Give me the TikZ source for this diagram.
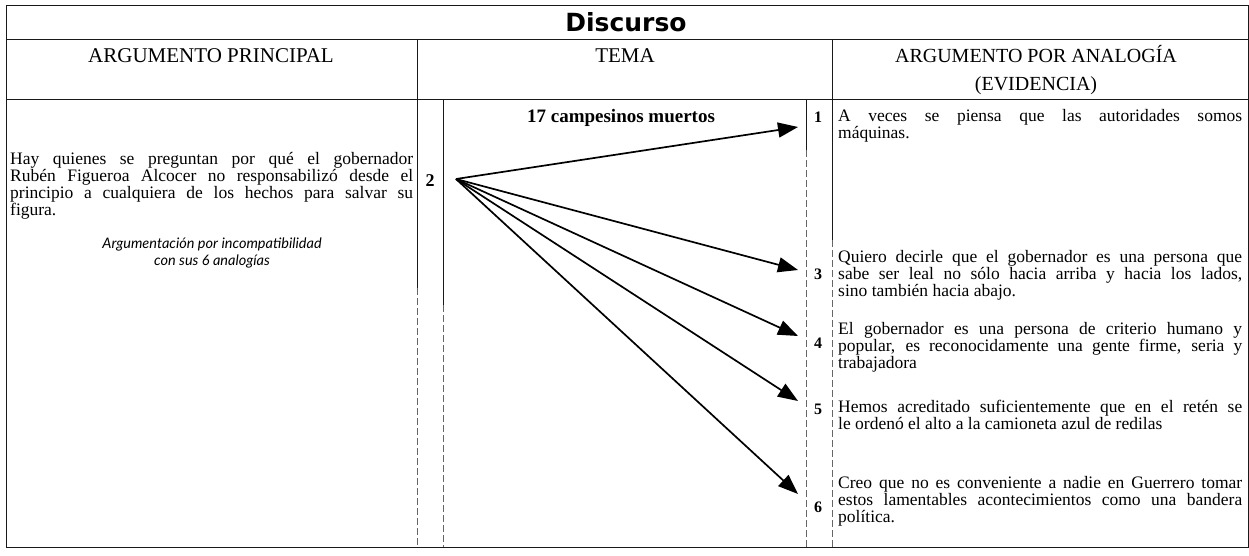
\documentclass[tikz,border=0pt]{standalone}
\usepackage{fontspec}
\setmainfont{Liberation Serif}
\newfontfamily\TitleFont{DejaVu Sans}
\newfontfamily\NoteFont{Lato}
\usetikzlibrary{arrows.meta}
\definecolor{LineClr}{rgb}{0.1,0.1,0.1}
\definecolor{FaintClr}{rgb}{0.4,0.4,0.4}
\newcommand{\Renglon}[2][404pt]{\makebox[#1][s]{#2}}

\begin{document}
\begin{tikzpicture}[x=1pt,y=-1pt,
  RuleLine/.style={line width=0.9pt,color=LineClr},
  FaintLine/.style={line width=0.7pt,color=FaintClr,dash pattern=on 7pt off 3pt},
  Flecha/.style={line width=1.7pt,-{Triangle[length=20pt,width=15pt]}},
  HeadTxt/.style={font=\fontsize{21}{24}\selectfont},
  BodyTxt/.style={font=\fontsize{17.5}{17}\selectfont,inner sep=0pt,anchor=north west,align=left},
  NumTxt/.style={font=\fontsize{16}{16}\selectfont\bfseries}]
\useasboundingbox (0,0) rectangle (1249,556);

\draw[RuleLine] (6,5) rectangle (1248,547);
\draw[RuleLine] (6,39) -- (1248,39);
\draw[RuleLine] (6,99) -- (1248,99);
\draw[RuleLine] (417,39) -- (417,99);
\draw[RuleLine] (832,39) -- (832,99);

\draw[RuleLine] (417,99) -- (417,288);
\draw[FaintLine] (417,288) -- (417,547);
\draw[RuleLine] (443,99) -- (443,305);
\draw[FaintLine] (443,305) -- (443,547);
\draw[RuleLine] (806,99) -- (806,150);
\draw[FaintLine] (806,150) -- (806,547);
\draw[RuleLine] (832,99) -- (832,240);
\draw[FaintLine] (832,240) -- (832,547);

\node[font=\TitleFont\bfseries\fontsize{25}{28}\selectfont] (titulo) at (626,22) {Discurso};
\node[HeadTxt] (hPrincipal) at (211,56) {ARGUMENTO PRINCIPAL};
\node[HeadTxt] (hTema) at (625,56) {TEMA};
\node[HeadTxt,align=center,font=\fontsize{20}{28}\selectfont] (hAnalogia) at (1036,70) {ARGUMENTO POR ANALOGÍA\\(EVIDENCIA)};

\node[BodyTxt] (argPrincipal) at (10,152) {%
\Renglon[403pt]{Hay quienes se preguntan por qué el gobernador}\\
\Renglon[403pt]{Rubén Figueroa Alcocer no responsabilizó desde el}\\
\Renglon[403pt]{principio a cualquiera de los hechos para salvar su}\\
figura.};
\node[font=\NoteFont\itshape\fontsize{14.5}{17.5}\selectfont,align=center] (nota) at (212,253) {Argumentación por incompatibilidad\\con sus 6 analogías};

\node[font=\bfseries\fontsize{19}{20}\selectfont] (tema) at (621,118) {17 campesinos muertos};

\node[NumTxt,font=\fontsize{18}{18}\selectfont\bfseries] (n2) at (430,181) {2};
\node[NumTxt] (n1) at (818,117) {1};
\node[NumTxt] (n3) at (818,274) {3};
\node[NumTxt] (n4) at (818,343) {4};
\node[NumTxt] (n5) at (818,409) {5};
\node[NumTxt] (n6) at (818,507) {6};

\node[BodyTxt] (ev1) at (838,109) {%
\Renglon{A veces se piensa que las autoridades somos}\\
máquinas.};
\node[BodyTxt] (ev3) at (838,250) {%
\Renglon{Quiero decirle que el gobernador es una persona que}\\
\Renglon{sabe ser leal no sólo hacia arriba y hacia los lados,}\\
sino también hacia abajo.};
\node[BodyTxt] (ev4) at (838,322) {%
\Renglon{El gobernador es una persona de criterio humano y}\\
\Renglon{popular, es reconocidamente una gente firme, seria y}\\
trabajadora};
\node[BodyTxt] (ev5) at (838,400) {%
\Renglon{Hemos acreditado suficientemente que en el retén se}\\
le ordenó el alto a la camioneta azul de redilas};
\node[BodyTxt] (ev6) at (838,476) {%
\Renglon{Creo que no es conveniente a nadie en Guerrero tomar}\\
\Renglon{estos lamentables acontecimientos como una bandera}\\
política.};

\coordinate (origen) at (456,179);
\coordinate (t1) at (798,127);
\coordinate (t3) at (798,270);
\coordinate (t4) at (798,336);
\coordinate (t5) at (798,401);
\coordinate (t6) at (798,494);
\foreach \k in {1,3,4,5,6}
  \draw[Flecha] (origen) -- (t\k);

\end{tikzpicture}
\end{document}
